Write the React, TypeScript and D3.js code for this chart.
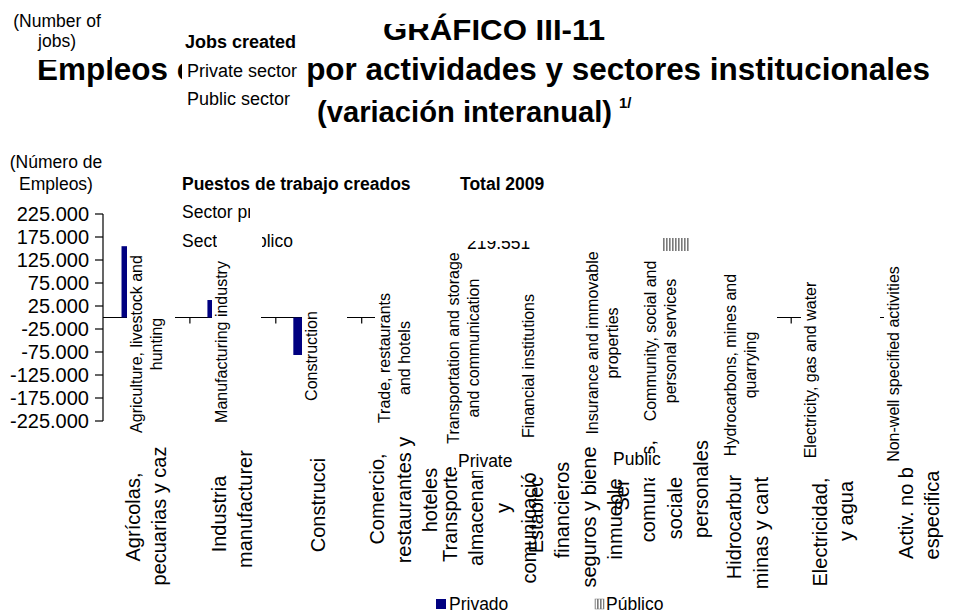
import React, { useEffect, useRef } from "react";
import * as d3 from "d3";

// ---------- data ----------
const categoriesEs = [
  "Agrícolas",
  "Industria manufacturera",
  "Construcción",
  "Comercio",
  "Transporte",
  "Establecimientos financieros",
  "Servicios",
  "Hidrocarburos",
  "Electricidad",
  "Activ. no bien especificadas",
];
// visible (clipped) label lines of the Spanish category axis
const esLabelLines = [
  ["Agrícolas,", "pecuarias y caz"],
  ["Industria", "manufacturer"],
  ["Construcci"],
  ["Comercio,", "restaurantes y", "hoteles"],
  ["Transporte", "almacenami", "y", "comunicació"],
  ["Establec", "financieros", "seguros y biene", "inmuebles"],
  ["Ser", "comunales,", "sociale", "personales"],
  ["Hidrocarbur", "minas y cant"],
  ["Electricidad,", "y agua"],
  ["Activ. no b", "especifica"],
];
// vertical centre of each Spanish label line (layout)
const esLineCenterY = [
  [517, 516],
  [514, 509],
  [505],
  [499, 500, 500],
  [514, 512, 508, 528],
  [515, 510, 517, 514],
  [495, 491, 508, 489],
  [527, 533],
  [532, 511],
  [513, 515],
];
// private-sector jobs created (bars beyond Construcción are hidden under labels in the reference)
const privateValues = [155000, 38000, -81500, 30000, 15000, 10000, 45000, 3000, 2000, 3000];
// public-sector bars are not visible in the reference
const publicValues = [0, 0, 0, 0, 0, 0, 0, 0, 0, 0];
const yTickValues = [225000, 175000, 125000, 75000, 25000, -25000, -75000, -125000, -175000, -225000];
const yDomain = [-225000, 225000];

const enLabels = [
  ["Agriculture, livestock and", "hunting"],
  ["Manufacturing industry"],
  ["Construction"],
  ["Trade, restaurants", "and hotels"],
  ["Transportation and storage", "and communication"],
  ["Financial institutions"],
  ["Insurance and immovable", "properties"],
  ["Community, social and", "personal services"],
  ["Hydrocarbons, mines and", "quarrying"],
  ["Electricity, gas and water"],
  ["Non-well specified activities"],
];
// layout of the English label boxes (left edge, width, vertical centre, top padding)
const enBoxLeft = [127, 212, 302, 375, 444, 519, 583, 641, 721, 801, 884];
const enBoxWidth = [48, 49, 45, 69, 75, 64, 58, 80, 56, 79, 80];
const enCenterY = [344, 342, 356, 358, 348, 366, 343, 341, 365, 370, 364];
const enBoxPadTop = [12, 2, 2, 2, 2, 2, 2, 2, 2, 2, 2];

const totalLabel = "Total 2009";
const totalValue = "219.551";

const FONT = "'Liberation Sans', Arial, Helvetica, sans-serif";
const NAVY = "#000080";

export default function App() {
  const ref = useRef<SVGSVGElement>(null);

  useEffect(() => {
    const W = 956, H = 613;
    const svg = d3.select(ref.current as SVGSVGElement);
    svg.selectAll("*").remove();
    svg.append("rect").attr("width", W).attr("height", H).attr("fill", "#fff");

    const defs = svg.append("defs");
    const pat = defs.append("pattern").attr("id", "pubHatch")
      .attr("patternUnits", "userSpaceOnUse").attr("width", 3).attr("height", 3);
    pat.append("rect").attr("width", 3).attr("height", 3).attr("fill", "#fff");
    pat.append("rect").attr("width", 1.6).attr("height", 3).attr("fill", "#7a7a7a");

    const txt = (g: any, x: number, y: number, s: string, size: number, opts: any = {}) => {
      const t = g.append("text").attr("x", x).attr("y", y).text(s)
        .attr("font-family", FONT).attr("font-size", size)
        .attr("font-weight", opts.bold ? "bold" : "normal")
        .attr("text-anchor", opts.anchor || "start").attr("fill", "#000");
      if (opts.len) t.attr("textLength", opts.len).attr("lengthAdjust", "spacingAndGlyphs");
      if (opts.rot) t.attr("transform", `rotate(-90,${x},${y})`);
      return t;
    };
    const mask = (x: number, y: number, w: number, h: number) =>
      svg.append("rect").attr("x", x).attr("y", y).attr("width", w).attr("height", h).attr("fill", "#fff");

    // ---------- titles ----------
    txt(svg, 383, 40, "GRÁFICO III-11", 30, { bold: true, len: 222 });
    txt(svg, 37, 80, "Empleos creados por actividades y sectores institucionales", 31, { bold: true, len: 893 });
    txt(svg, 317, 122, "(variación interanual)", 30, { bold: true, len: 295 });
    txt(svg, 619, 108, "1/", 15, { bold: true });

    // overlapping header boxes
    mask(0, 0, 110, 60);
    mask(182, 52, 124, 60);
    mask(378, 0, 50, 24);

    txt(svg, 57, 27, "(Number of", 17.5, { anchor: "middle" });
    txt(svg, 57, 47, "jobs)", 17.5, { anchor: "middle" });
    txt(svg, 185, 48, "Jobs created", 18, { bold: true });
    txt(svg, 187, 77, "Private sector", 18);
    txt(svg, 187, 105, "Public sector", 18);

    // ---------- second header ----------
    txt(svg, 56, 168, "(Número de", 17.5, { anchor: "middle" });
    txt(svg, 56, 190, "Empleos)", 17.5, { anchor: "middle" });
    txt(svg, 182, 190, "Puestos de trabajo creados", 17.5, { bold: true });
    txt(svg, 460, 190, totalLabel, 17.5, { bold: true });
    txt(svg, 182, 218, "Sector privado", 17.5);
    txt(svg, 182, 247, "Sector público", 17.5);
    txt(svg, 467, 249, totalValue, 17.5);
    mask(250, 198, 298, 28);
    mask(440, 224, 108, 17);
    mask(217, 226, 45, 30);

    // ---------- scales ----------
    const x = d3.scaleBand<string>().domain(categoriesEs).range([104, 963]).padding(0);
    const bw = x.bandwidth();
    const y = d3.scaleLinear().domain(yDomain).range([421, 214]);
    const loc = d3.formatLocale({ decimal: ",", thousands: ".", grouping: [3], currency: ["", ""], minus: "-" } as any);
    const fmtK = (v: number) => loc.format(",d")(v);

    // y axis
    const ax = svg.append("g");
    ax.append("line").attr("x1", 103).attr("x2", 103).attr("y1", y(yDomain[1])).attr("y2", y(yDomain[0]))
      .attr("stroke", "#000").attr("stroke-width", 1.2);
    yTickValues.forEach((v) => {
      ax.append("line").attr("x1", 95).attr("x2", 103).attr("y1", y(v)).attr("y2", y(v)).attr("stroke", "#000").attr("stroke-width", 1.2);
      txt(ax, 89, y(v) + 7, fmtK(v), 20, { anchor: "end" });
    });

    // zero (category) axis
    ax.append("line").attr("x1", 103).attr("x2", 963).attr("y1", y(0)).attr("y2", y(0)).attr("stroke", "#000").attr("stroke-width", 1.2);
    categoriesEs.forEach((c, i) => {
      if (i === 0) return;
      const xx = x(c)!;
      ax.append("line").attr("x1", xx).attr("x2", xx).attr("y1", y(0)).attr("y2", y(0) + 6).attr("stroke", "#000").attr("stroke-width", 1.2);
    });

    // bars
    const barOff = bw * 0.204, barW = bw * 0.11;
    categoriesEs.forEach((c, i) => {
      const v = privateValues[i];
      svg.append("rect").attr("x", x(c)! + barOff).attr("width", barW)
        .attr("y", y(Math.max(0, v))).attr("height", Math.abs(y(v) - y(0))).attr("fill", NAVY);
      const p = publicValues[i];
      if (p !== 0) {
        svg.append("rect").attr("x", x(c)! + barOff + barW).attr("width", barW)
          .attr("y", y(Math.max(0, p))).attr("height", Math.abs(y(p) - y(0))).attr("fill", "url(#pubHatch)");
      }
    });

    // English category labels with white boxes
    enLabels.forEach((lines, i) => {
      const g = svg.append("g");
      const box = g.append("rect").attr("fill", "#fff");
      let maxLen = 0;
      lines.forEach((ln, j) => {
        const bx = enBoxLeft[i] + 15 + j * 19.5;
        const t = txt(g, bx, enCenterY[i], ln, 16, { anchor: "middle", rot: true });
        maxLen = Math.max(maxLen, (t.node() as SVGTextElement).getComputedTextLength());
      });
      box.attr("x", enBoxLeft[i]).attr("width", enBoxWidth[i])
        .attr("y", enCenterY[i] - maxLen / 2 - enBoxPadTop[i]).attr("height", maxLen + 4 + enBoxPadTop[i]);
    });

    // top gray swatch
    svg.append("rect").attr("x", 662).attr("y", 238).attr("width", 27).attr("height", 13).attr("fill", "url(#pubHatch)");

    // Spanish category labels
    categoriesEs.forEach((c, i) => {
      const lines = esLabelLines[i];
      const cx = x(c)! + bw / 2;
      lines.forEach((ln, j) => {
        const bx = cx + (j - (lines.length - 1) / 2) * 26.5 + 6;
        txt(svg, bx, esLineCenterY[i][j], ln, 20, { anchor: "middle", rot: true });
      });
    });

    // floating legend words
    mask(456, 452, 58, 19);
    txt(svg, 458, 467, "Private", 17.5);
    mask(610, 453, 56, 25);
    txt(svg, 613, 465, "Public", 17.5);

    // bottom legend
    svg.append("rect").attr("x", 436).attr("y", 599).attr("width", 10).attr("height", 10).attr("fill", NAVY);
    txt(svg, 449, 610, "Privado", 17.5);
    svg.append("rect").attr("x", 595).attr("y", 599).attr("width", 9).attr("height", 10).attr("fill", "url(#pubHatch)").attr("stroke", "#888").attr("stroke-width", 0.6);
    txt(svg, 606, 610, "Público", 17.5);
  }, []);

  return (
    <svg ref={ref} width={956} height={613}
      style={{ position: "absolute", left: 0, top: 0, display: "block" }} />
  );
}
